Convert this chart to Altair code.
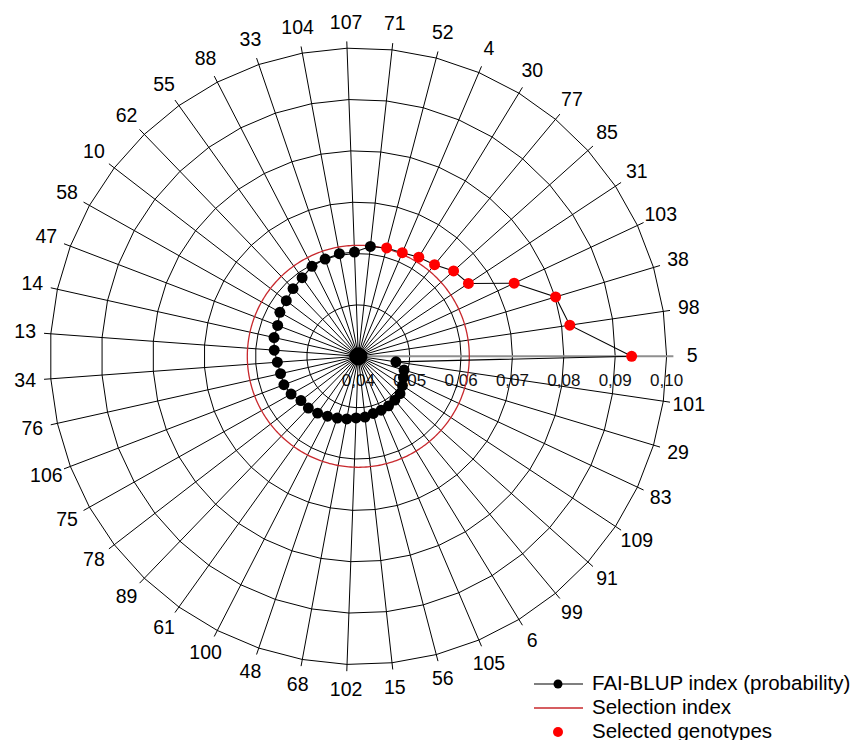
import altair as alt
import numpy as np
import pandas as pd

# ---------------- data ----------------
genotypes = ["5", "98", "38", "103", "31", "85", "77", "30", "4", "52", "71",
             "107", "104", "33", "88", "55", "62", "10", "58", "47", "14", "13",
             "34", "76", "106", "75", "78", "89", "61", "100", "48", "68", "102",
             "15", "56", "105", "6", "99", "91", "109", "83", "29", "101"]
fai_blup = [0.0932, 0.0816, 0.0801, 0.0735, 0.0657, 0.0649, 0.0632, 0.0626, 0.0619,
            0.0618, 0.0615, 0.0603, 0.0603, 0.0600, 0.0597, 0.0588, 0.0583, 0.0577,
            0.0575, 0.0568, 0.0568, 0.0564, 0.0558, 0.0555, 0.0555, 0.0550, 0.0541,
            0.0540, 0.0536, 0.0531, 0.0527, 0.0524, 0.0520, 0.0519, 0.0515, 0.0514,
            0.0513, 0.0511, 0.0509, 0.0503, 0.0497, 0.0493, 0.0474]
selection_index = 0.0616
ring_levels = [0.05, 0.06, 0.07, 0.08, 0.09, 0.10]
tick_values = [0.04, 0.05, 0.06, 0.07, 0.08, 0.09, 0.10]
tick_labels = ["0,04", "0,05", "0,06", "0,07", "0,08", "0,09", "0,10"]
legend_labels = ["FAI-BLUP index (probability)", "Selection index", "Selected genotypes"]
r_min, r_max = 0.04, 0.10

# ---------------- layout constants ----------------
W, H = 843, 732
PX = 308.3          # pixels per radial unit (outer ring)
CX, CY = 350.3, 348.3  # centre in plot pixels
xmin = -CX / PX
xmax = xmin + W / PX
ymax = CY / PX
ymin = ymax - H / PX
FONT = "Liberation Sans"
RED = "#FF0000"
DARKRED = "#C8282D"

xs = alt.Scale(domain=[xmin, xmax], nice=False, zero=False)
ys = alt.Scale(domain=[ymin, ymax], nice=False, zero=False)


def X(f):
    return alt.X(f, type="quantitative", scale=xs, axis=None)


def Y(f):
    return alt.Y(f, type="quantitative", scale=ys, axis=None)


n = len(genotypes)
ang = [2 * np.pi * i / n for i in range(n)]


def u(v):
    return (v - r_min) / (r_max - r_min)


# spokes
spk = pd.DataFrame({
    "g": genotypes,
    "x0": 0.0, "y0": 0.0,
    "x1": [1.022 * np.cos(a) for a in ang],
    "y1": [1.022 * np.sin(a) for a in ang],
})
spokes = alt.Chart(spk.iloc[1:]).mark_rule(color="black", strokeWidth=1).encode(
    x=X("x0"), y=Y("y0"), x2="x1", y2="y1")
axis_spoke = alt.Chart(spk.iloc[:1]).mark_rule(color="#8f8f8f", strokeWidth=2).encode(
    x=X("x0"), y=Y("y0"), x2="x1", y2="y1")

# rings (polygons)
rows = []
for lv in ring_levels:
    for k in range(n + 1):
        a = ang[k % n]
        rows.append({"ring": lv, "o": k, "x": u(lv) * np.cos(a), "y": u(lv) * np.sin(a)})
rings = alt.Chart(pd.DataFrame(rows)).mark_line(color="black", strokeWidth=1).encode(
    x=X("x"), y=Y("y"), detail="ring:N", order="o:Q")

# centre blob
ctr = alt.Chart(pd.DataFrame({"x": [u(r_min)], "y": [0.0]})).mark_circle(
    color="black", opacity=1, size=330).encode(x=X("x"), y=Y("y"))

# selection index circle
t = np.linspace(0, 2 * np.pi, 361)
sel = pd.DataFrame({"o": range(len(t)),
                    "x": u(selection_index) * np.cos(t),
                    "y": u(selection_index) * np.sin(t)})
sel_circle = alt.Chart(sel).mark_line(color=DARKRED, strokeWidth=1.3).encode(
    x=X("x"), y=Y("y"), order="o:Q")

# data polygon + points
pts = pd.DataFrame({
    "g": genotypes,
    "v": fai_blup,
    "x": [u(v) * np.cos(a) for v, a in zip(fai_blup, ang)],
    "y": [u(v) * np.sin(a) for v, a in zip(fai_blup, ang)],
})
pts["selected"] = pts["v"] > selection_index
pts["o"] = range(n)
poly_df = pd.concat([pts, pts.iloc[:1].assign(o=n)], ignore_index=True)
poly = alt.Chart(poly_df).mark_line(color="black", strokeWidth=1.1).encode(
    x=X("x"), y=Y("y"), order="o:Q")
dots = alt.Chart(pts).mark_circle(opacity=1, size=120).encode(
    x=X("x"), y=Y("y"),
    color=alt.condition("datum.selected", alt.value(RED), alt.value("black")))

# category labels
lab = pd.DataFrame({
    "g": genotypes,
    "x": [1.0833 * np.cos(a) for a in ang],
    "y": [1.0833 * np.sin(a) for a in ang],
})
labels = alt.Chart(lab).mark_text(font=FONT, fontSize=19.5, color="black",
                                  align="center", baseline="middle").encode(
    x=X("x"), y=Y("y"), text="g:N")

# radial tick labels
tk = pd.DataFrame({"t": tick_labels, "x": [u(v) for v in tick_values], "y": 0.0})
ticks = alt.Chart(tk).mark_text(font=FONT, fontSize=17, color="#111111",
                                align="center", baseline="middle", dy=25).encode(
    x=X("x"), y=Y("y"), text="t:N")

# legend (manual)
one = pd.DataFrame({"k": [0]})
LX0, LX1, LDOT, LTX = 526, 575, 550, 584
LY = [676, 700, 724]
leg = [
    alt.Chart(one).mark_rule(color="black", strokeWidth=1.2).encode(
        x=alt.value(LX0), x2=alt.value(LX1), y=alt.value(LY[0])),
    alt.Chart(one).mark_circle(color="black", opacity=1, size=80).encode(
        x=alt.value(LDOT), y=alt.value(LY[0])),
    alt.Chart(one).mark_rule(color=DARKRED, strokeWidth=1.3).encode(
        x=alt.value(LX0), x2=alt.value(LX1), y=alt.value(LY[1])),
    alt.Chart(one).mark_circle(color=RED, opacity=1, size=100).encode(
        x=alt.value(LDOT), y=alt.value(LY[2])),
]
for lbl, yy in zip(legend_labels, LY):
    leg.append(alt.Chart(one).mark_text(font=FONT, fontSize=20.5, color="black",
                                        align="left", baseline="middle").encode(
        x=alt.value(LTX), y=alt.value(yy), text=alt.value(lbl)))

chart = alt.layer(ticks, rings, spokes, axis_spoke, sel_circle, ctr, poly, dots, labels,
                  *leg).properties(
    width=W, height=H, padding=0, autosize=alt.AutoSizeParams(type="none")
).configure_view(stroke=None)

chart.save("out.html", embed_options={"renderer": "svg", "actions": False})
